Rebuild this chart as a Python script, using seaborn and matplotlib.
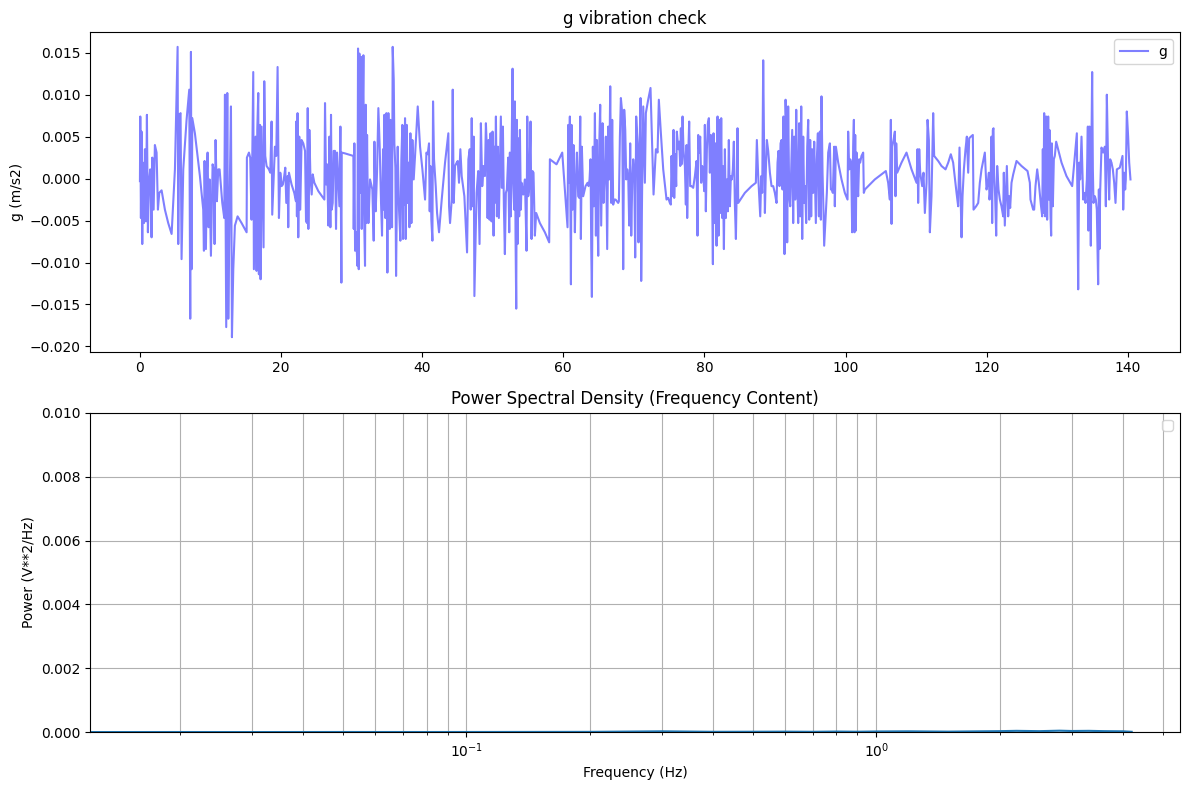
import matplotlib
matplotlib.use("Agg")
import matplotlib.pyplot as plt
import seaborn as sns

# accelerometer trace (time in s, g in m/s2)
time_s = [
    0.00, 0.05, 0.14, 0.23, 0.33, 0.42, 0.57, 0.71, 0.85, 0.99, 1.13, 1.27, 1.46, 1.65, 1.75, 1.94,
    2.12, 2.36, 2.55, 2.74, 3.07, 3.54, 4.01, 4.49, 4.96, 5.34, 5.43, 5.57, 5.76, 5.90, 6.14, 6.61,
    6.99, 7.13, 7.23, 7.32, 7.42, 7.79, 8.50, 8.97, 9.07, 9.16, 9.35, 9.49, 9.59, 9.73, 9.87, 10.06,
    10.30, 10.44, 10.58, 10.72, 10.91, 11.10, 11.29, 11.48, 11.67, 11.95, 12.05, 12.23, 12.38, 12.52,
    12.71, 12.90, 13.04, 13.23, 13.46, 13.84, 14.41, 15.12, 15.16, 15.45, 15.63, 15.82, 16.06, 16.15,
    16.30, 16.39, 16.53, 16.63, 16.77, 16.86, 17.01, 17.10, 17.24, 17.38, 17.52, 17.62, 17.76, 17.95,
    18.28, 18.47, 18.66, 18.75, 18.94, 19.13, 19.32, 19.51, 19.70, 19.89, 20.08, 20.26, 20.45, 20.60,
    20.74, 20.93, 21.02, 21.12, 21.49, 21.87, 22.11, 22.15, 22.25, 22.34, 22.44, 22.58, 22.72, 22.91,
    23.15, 23.40, 23.54, 23.68, 23.78, 23.87, 24.01, 24.16, 24.34, 24.49, 24.72, 25.29, 26.14, 26.23,
    26.38, 26.52, 26.71, 26.85, 26.99, 27.08, 27.18, 27.32, 27.46, 27.65, 27.79, 27.94, 28.12, 28.27,
    28.41, 28.55, 28.60, 29.07, 30.25, 30.30, 30.39, 30.49, 30.63, 30.82, 30.91, 31.01, 31.10, 31.24,
    31.34, 31.43, 31.53, 31.67, 31.76, 31.90, 32.00, 32.09, 32.19, 32.28, 32.38, 32.61, 32.94, 33.13,
    33.23, 33.41, 33.60, 33.79, 33.98, 34.17, 34.31, 34.45, 34.55, 34.64, 34.78, 34.93, 35.07, 35.21,
    35.40, 35.49, 35.59, 35.73, 35.82, 35.97, 36.06, 36.20, 36.30, 36.44, 36.53, 36.72, 36.91, 37.05,
    37.19, 37.29, 37.38, 37.48, 37.57, 37.67, 37.81, 37.95, 38.04, 38.19, 38.33, 38.47, 38.61, 38.80,
    38.99, 39.37, 39.70, 40.03, 40.41, 40.60, 40.78, 40.97, 41.07, 41.16, 41.30, 41.45, 41.54, 41.68,
    41.92, 42.11, 42.39, 42.77, 43.24, 43.71, 43.81, 43.95, 44.09, 44.19, 44.33, 44.47, 44.66, 44.89,
    45.04, 45.22, 45.41, 45.60, 45.98, 46.36, 46.55, 46.74, 46.88, 47.02, 47.16, 47.30, 47.40, 47.71,
    47.94, 48.13, 48.32, 48.51, 48.70, 48.89, 49.03, 49.17, 49.27, 49.41, 49.55, 49.69, 49.83, 49.97,
    50.12, 50.21, 50.30, 50.45, 50.59, 50.73, 50.87, 51.06, 51.15, 51.30, 51.44, 51.58, 51.72, 51.86,
    52.00, 52.19, 52.34, 52.43, 52.57, 52.67, 52.81, 52.90, 53.04, 53.14, 53.23, 53.33, 53.42, 53.52,
    53.61, 53.75, 53.85, 53.99, 54.08, 54.32, 54.56, 54.79, 54.89, 55.03, 55.17, 55.36, 55.50, 55.64,
    55.78, 55.97, 56.16, 56.68, 57.39, 58.00, 58.10, 59.04, 59.85, 60.22, 60.60, 60.70, 60.79, 60.93,
    61.08, 61.17, 61.31, 61.45, 61.64, 61.78, 61.93, 62.11, 62.26, 62.40, 62.49, 62.63, 62.82, 63.15,
    63.44, 63.58, 63.72, 63.86, 63.96, 64.05, 64.19, 64.33, 64.48, 64.62, 64.76, 64.85, 64.95, 65.09,
    65.23, 65.37, 65.56, 65.70, 65.89, 66.03, 66.22, 66.37, 66.51, 66.65, 66.79, 66.93, 67.07, 67.22,
    67.41, 67.78, 67.88, 68.02, 68.16, 68.35, 68.49, 68.63, 68.78, 68.92, 69.06, 69.20, 69.34, 69.48,
    69.63, 69.77, 69.91, 70.05, 70.19, 70.33, 70.52, 70.66, 70.81, 70.95, 71.04, 71.18, 71.33, 71.47,
    71.56, 71.70, 72.03, 72.36, 72.60, 72.79, 73.12, 73.36, 73.54, 73.83, 74.16, 74.39, 74.63, 74.87,
    75.10, 75.24, 75.34, 75.48, 75.62, 75.72, 75.86, 76.00, 76.09, 76.19, 76.33, 76.43, 76.57, 76.66,
    76.76, 76.90, 77.04, 77.23, 77.37, 77.47, 77.56, 77.70, 77.84, 77.98, 78.17, 78.41, 78.65, 78.88,
    79.02, 79.12, 79.26, 79.40, 79.54, 79.69, 79.83, 79.97, 80.06, 80.20, 80.35, 80.49, 80.63, 80.77,
    80.91, 81.06, 81.20, 81.29, 81.43, 81.58, 81.72, 81.86, 82.00, 82.14, 82.24, 82.38, 82.52, 82.61,
    82.76, 82.90, 83.04, 83.18, 83.32, 83.46, 83.61, 83.75, 83.89, 84.03, 84.17, 84.31, 84.46, 84.60,
    84.69, 84.79, 85.73, 86.68, 87.29, 87.43, 87.62, 87.76, 87.91, 88.05, 88.19, 88.33, 88.47, 88.57,
    88.71, 88.85, 89.04, 89.28, 89.51, 89.75, 89.98, 90.22, 90.36, 90.50, 90.64, 90.79, 90.93, 91.07,
    91.21, 91.35, 91.50, 91.64, 91.73, 91.87, 92.02, 92.16, 92.30, 92.44, 92.58, 92.72, 92.87, 93.01,
    93.15, 93.29, 93.43, 93.57, 93.72, 93.86, 94.00, 94.14, 94.28, 94.42, 94.57, 94.71, 94.85, 94.99,
    95.13, 95.27, 95.42, 95.56, 95.79, 95.93, 96.08, 96.22, 96.36, 96.50, 96.59, 96.74, 96.88, 96.97,
    97.16, 97.35, 97.54, 97.78, 97.92, 98.06, 98.20, 98.39, 98.48, 98.63, 98.96, 99.43, 99.90, 100.28,
    100.37, 100.52, 100.66, 100.80, 100.94, 101.08, 101.18, 101.27, 101.37, 101.46, 101.56, 101.65,
    101.79, 101.93, 102.07, 102.26, 102.50, 102.59, 102.74, 104.15, 105.71, 106.04, 106.28, 106.42,
    106.52, 106.61, 106.80, 106.99, 107.08, 107.18, 107.32, 107.93, 108.64, 109.35, 110.06, 110.20,
    110.29, 110.44, 110.58, 110.72, 110.86, 111.05, 111.24, 111.48, 111.62, 111.81, 111.95, 112.18,
    112.42, 112.56, 113.13, 113.60, 114.17, 114.55, 114.92, 115.25, 115.73, 115.96, 116.15, 116.44,
    116.58, 116.77, 117.00, 117.19, 117.38, 117.52, 117.76, 118.04, 118.14, 118.51, 118.80, 119.03,
    119.27, 119.74, 119.98, 120.17, 120.31, 120.40, 120.54, 120.68, 120.78, 120.87, 120.97, 121.06,
    121.20, 121.35, 121.49, 121.68, 121.87, 122.10, 122.34, 122.43, 122.57, 122.72, 122.86, 123.05,
    123.19, 123.33, 123.52, 123.76, 124.23, 124.94, 125.79, 126.12, 126.21, 126.59, 126.73, 126.92,
    127.16, 127.39, 127.68, 127.87, 127.96, 128.05, 128.15, 128.29, 128.43, 128.57, 128.72, 128.81,
    128.90, 129.05, 129.14, 129.24, 129.38, 129.52, 129.66, 129.85, 130.61, 131.31, 132.12, 132.50,
    132.78, 132.87, 132.97, 133.11, 133.25, 133.44, 133.53, 133.68, 133.82, 134.01, 134.20, 134.34,
    134.43, 134.57, 134.67, 134.76, 134.86, 134.95, 135.05, 135.14, 135.33, 135.47, 135.61, 135.80,
    135.90, 135.99, 136.08, 136.27, 136.51, 136.75, 136.89, 137.03, 137.22, 137.36, 137.50, 137.69,
    137.88, 138.07, 138.26, 138.45, 138.87, 139.25, 139.35, 139.49, 139.63, 139.72, 139.86, 140.05,
    140.20, 140.38,
]

g_vals = [
    -0.0003, 0.0074, -0.0047, 0.0056, -0.0078, 0.0019, -0.0053, 0.0035, -0.0051, 0.0076, -0.0064, -0.0005,
    0.0011, -0.0070, 0.0025, -0.0037, 0.0040, 0.0031, -0.0037, -0.0017, -0.0014, -0.0037, -0.0053, -0.0066,
    0.0011, 0.0157, -0.0078, 0.0076, 0.0078, -0.0096, 0.0011, 0.0070, 0.0106, -0.0167, 0.0151, -0.0108,
    0.0072, 0.0054, 0.0003, -0.0037, -0.0086, 0.0021, -0.0084, 0.0007, 0.0031, -0.0058, -0.0001, -0.0092,
    0.0017, 0.0011, -0.0078, 0.0046, -0.0027, 0.0011, 0.0011, -0.0009, -0.0029, -0.0047, 0.0100, -0.0177,
    0.0102, -0.0167, -0.0025, 0.0086, -0.0189, -0.0108, -0.0056, -0.0045, -0.0053, -0.0064, 0.0025, 0.0031,
    0.0025, -0.0049, 0.0127, -0.0108, -0.0005, 0.0050, -0.0110, 0.0058, 0.0102, -0.0114, 0.0064, -0.0120,
    0.0062, -0.0013, -0.0082, 0.0116, 0.0027, 0.0015, 0.0011, 0.0007, 0.0068, -0.0043, -0.0001, 0.0038,
    0.0027, 0.0133, -0.0047, 0.0007, -0.0009, -0.0007, 0.0003, 0.0013, -0.0029, 0.0003, -0.0058, 0.0007,
    -0.0007, -0.0017, -0.0027, 0.0068, -0.0045, 0.0078, -0.0070, 0.0050, -0.0037, 0.0046, 0.0042, 0.0033,
    -0.0051, -0.0053, 0.0084, -0.0060, 0.0058, 0.0003, -0.0019, 0.0005, -0.0005, -0.0015, -0.0025, 0.0090,
    -0.0007, 0.0017, -0.0056, 0.0050, -0.0058, 0.0076, -0.0037, -0.0029, 0.0033, 0.0033, -0.0060, 0.0031,
    -0.0005, -0.0033, 0.0062, -0.0124, 0.0031, 0.0030, 0.0027, -0.0060, 0.0042, -0.0086, -0.0064, -0.0104,
    0.0155, -0.0108, 0.0149, -0.0017, 0.0145, -0.0060, 0.0042, 0.0147, -0.0041, -0.0104, 0.0088, -0.0053,
    0.0052, -0.0017, -0.0053, -0.0001, -0.0013, -0.0074, 0.0044, -0.0039, 0.0007, 0.0084, 0.0038, -0.0029,
    -0.0068, 0.0035, -0.0037, 0.0076, -0.0047, 0.0078, -0.0112, 0.0078, -0.0060, 0.0070, 0.0042, -0.0058,
    0.0157, 0.0118, 0.0042, 0.0013, -0.0116, -0.0005, 0.0038, -0.0037, -0.0074, 0.0023, 0.0064, -0.0072,
    0.0062, -0.0031, 0.0072, -0.0072, 0.0064, -0.0029, 0.0019, -0.0058, 0.0054, -0.0053, 0.0046, -0.0001,
    0.0027, 0.0086, 0.0038, 0.0011, -0.0025, 0.0031, 0.0029, 0.0042, -0.0039, 0.0015, -0.0049, -0.0074,
    0.0092, 0.0023, -0.0009, -0.0041, -0.0064, -0.0025, 0.0019, 0.0054, -0.0033, -0.0053, -0.0037, -0.0025,
    0.0106, -0.0029, 0.0015, 0.0019, 0.0021, -0.0005, 0.0035, 0.0003, -0.0021, -0.0088, 0.0023, 0.0035,
    -0.0037, 0.0072, -0.0033, 0.0050, -0.0140, -0.0017, 0.0009, -0.0078, 0.0066, -0.0009, 0.0015, 0.0003,
    0.0066, 0.0035, -0.0047, 0.0046, -0.0049, 0.0054, -0.0051, 0.0056, -0.0068, 0.0038, -0.0029, 0.0074,
    -0.0045, 0.0038, -0.0047, 0.0037, 0.0074, -0.0011, 0.0062, -0.0033, -0.0090, -0.0017, -0.0013, 0.0025,
    -0.0064, 0.0031, -0.0045, 0.0031, 0.0131, -0.0001, -0.0037, 0.0092, -0.0068, -0.0155, 0.0070, -0.0078,
    0.0048, -0.0045, 0.0058, -0.0037, -0.0005, -0.0019, -0.0001, -0.0086, 0.0074, -0.0021, -0.0011, 0.0068,
    -0.0072, 0.0009, 0.0007, -0.0068, -0.0041, -0.0053, -0.0064, -0.0076, 0.0023, 0.0017, 0.0031, -0.0013,
    -0.0058, 0.0064, -0.0005, 0.0074, -0.0126, 0.0064, -0.0037, 0.0040, -0.0064, -0.0001, 0.0031, -0.0021,
    -0.0023, 0.0074, -0.0072, 0.0038, -0.0021, -0.0009, -0.0005, -0.0009, -0.0001, 0.0023, -0.0084, -0.0141,
    0.0038, -0.0033, 0.0078, -0.0068, 0.0046, -0.0045, -0.0092, 0.0038, 0.0088, -0.0056, 0.0066, -0.0029,
    0.0011, 0.0050, -0.0084, 0.0062, -0.0001, 0.0110, -0.0029, 0.0070, -0.0031, -0.0025, -0.0025, -0.0029,
    -0.0027, 0.0050, 0.0096, 0.0078, -0.0108, 0.0082, 0.0058, -0.0001, 0.0011, 0.0003, -0.0056, 0.0042,
    -0.0068, -0.0005, 0.0023, 0.0011, -0.0094, 0.0074, 0.0042, -0.0076, 0.0038, 0.0096, -0.0122, -0.0005,
    0.0086, 0.0027, -0.0005, 0.0078, 0.0094, 0.0108, 0.0038, -0.0019, 0.0035, 0.0031, 0.0094, 0.0054,
    0.0011, -0.0007, -0.0025, -0.0023, -0.0029, -0.0031, 0.0027, -0.0021, 0.0058, -0.0023, 0.0029, -0.0009,
    0.0056, 0.0046, 0.0035, 0.0044, 0.0015, 0.0060, 0.0017, 0.0074, 0.0033, 0.0015, -0.0031, 0.0040,
    -0.0047, 0.0027, 0.0068, -0.0009, -0.0009, -0.0011, 0.0003, 0.0021, -0.0068, 0.0052, 0.0031, 0.0050,
    -0.0005, 0.0015, 0.0005, -0.0015, 0.0064, -0.0039, 0.0035, 0.0066, 0.0072, 0.0007, 0.0052, 0.0007,
    -0.0102, 0.0054, -0.0053, 0.0042, -0.0080, 0.0074, -0.0068, 0.0070, -0.0041, 0.0072, -0.0047, 0.0015,
    -0.0084, 0.0035, -0.0047, -0.0001, -0.0039, 0.0046, -0.0033, 0.0003, -0.0001, 0.0011, 0.0044, -0.0029,
    -0.0072, -0.0001, 0.0060, -0.0029, -0.0017, -0.0009, -0.0005, 0.0046, 0.0003, -0.0021, -0.0045, 0.0003,
    -0.0017, 0.0141, 0.0027, -0.0041, 0.0011, 0.0046, 0.0033, 0.0007, -0.0009, -0.0009, -0.0017, -0.0029,
    0.0019, 0.0033, -0.0009, 0.0042, 0.0046, -0.0013, 0.0074, -0.0090, 0.0094, 0.0050, -0.0076, 0.0086,
    -0.0021, -0.0033, 0.0015, 0.0058, -0.0053, 0.0050, -0.0025, 0.0082, -0.0001, -0.0053, 0.0066, -0.0045,
    0.0086, -0.0072, 0.0050, -0.0029, -0.0009, -0.0053, 0.0038, 0.0070, -0.0049, 0.0046, -0.0045, 0.0035,
    -0.0017, 0.0044, -0.0053, 0.0023, 0.0054, -0.0045, 0.0056, -0.0049, 0.0098, 0.0007, -0.0041, -0.0080,
    -0.0049, -0.0017, 0.0031, 0.0042, -0.0013, -0.0013, -0.0017, 0.0038, -0.0033, 0.0038, 0.0019, -0.0001,
    -0.0017, -0.0025, 0.0056, 0.0011, 0.0023, 0.0019, -0.0064, 0.0038, 0.0070, -0.0064, 0.0052, -0.0062,
    0.0031, 0.0003, -0.0021, 0.0023, 0.0019, 0.0027, 0.0031, -0.0017, -0.0013, -0.0001, 0.0009, -0.0005,
    -0.0025, 0.0070, -0.0054, 0.0038, 0.0046, 0.0056, -0.0021, 0.0042, 0.0007, 0.0019, 0.0031, 0.0011,
    -0.0005, 0.0035, -0.0029, 0.0035, 0.0007, -0.0001, -0.0009, 0.0007, -0.0041, -0.0005, 0.0070, 0.0046,
    -0.0064, -0.0021, 0.0078, 0.0027, 0.0021, 0.0015, 0.0011, 0.0019, 0.0029, 0.0019, -0.0017, -0.0033,
    0.0037, -0.0070, -0.0021, 0.0011, 0.0035, 0.0050, 0.0007, 0.0048, 0.0050, 0.0052, -0.0037, -0.0033,
    -0.0029, -0.0005, 0.0011, 0.0031, -0.0013, -0.0005, 0.0007, -0.0025, -0.0013, 0.0050, -0.0053, 0.0058,
    0.0060, 0.0007, -0.0021, -0.0068, 0.0015, -0.0013, -0.0025, -0.0033, -0.0045, 0.0007, -0.0056, -0.0021,
    0.0015, -0.0045, -0.0021, -0.0035, -0.0005, 0.0005, 0.0021, 0.0015, 0.0009, -0.0005, -0.0025, -0.0037,
    -0.0037, -0.0009, 0.0011, -0.0005, -0.0031, -0.0045, 0.0035, -0.0041, 0.0078, -0.0045, 0.0074, -0.0049,
    0.0074, -0.0025, 0.0058, -0.0045, -0.0068, 0.0042, -0.0033, 0.0023, 0.0027, 0.0044, 0.0019, 0.0003,
    -0.0009, 0.0027, 0.0054, -0.0029, -0.0132, 0.0019, -0.0001, 0.0050, 0.0023, -0.0025, -0.0017, -0.0029,
    -0.0001, 0.0062, -0.0062, 0.0062, -0.0001, -0.0080, 0.0050, 0.0127, 0.0011, -0.0029, -0.0021, -0.0025,
    -0.0037, -0.0126, -0.0013, -0.0084, -0.0017, 0.0037, 0.0031, 0.0038, -0.0033, 0.0100, 0.0015, -0.0025,
    0.0023, 0.0019, 0.0011, -0.0005, -0.0029, 0.0011, 0.0013, 0.0027, -0.0037, 0.0007, -0.0013, -0.0001,
    0.0080, 0.0050, 0.0019, -0.0001,
]

# power spectral density, tiny compared with the 0.01 axis
psd_freq = [0.012, 0.02, 0.03, 0.05, 0.08, 0.12, 0.2, 0.3, 0.4, 0.5, 0.6, 0.7, 0.8, 0.9,
            1.0, 1.2, 1.5, 1.8, 2.0, 2.2, 2.5, 2.8, 3.0, 3.3, 3.6, 4.0, 4.2]
psd_power = [2e-6, 3e-6, 2e-6, 4e-6, 3e-6, 5e-6, 8e-6, 2.5e-5, 1e-5, 1.2e-5, 1.5e-5, 1e-5, 1.8e-5,
             1.2e-5, 2e-5, 2.5e-5, 1.5e-5, 2.5e-5, 3e-5, 4e-5, 3e-5, 4.5e-5, 3.5e-5, 4e-5, 3e-5,
             2.5e-5, 1e-5]

fig, (ax1, ax2) = plt.subplots(2, 1, figsize=(12, 8), dpi=100)

sns.lineplot(x=time_s, y=g_vals, ax=ax1, color="blue", alpha=0.5, label="g",
             estimator=None, sort=False)
ax1.set_title("g vibration check")
ax1.set_ylabel("g (m/s2)")
ax1.legend(loc="upper right")

sns.lineplot(x=psd_freq, y=psd_power, ax=ax2, estimator=None, sort=False)
ax2.set_xscale("log")
ax2.set_xlim(0.0121, 5.51)
ax2.set_ylim(0, 0.01)
ax2.set_title("Power Spectral Density (Frequency Content)")
ax2.set_xlabel("Frequency (Hz)")
ax2.set_ylabel("Power (V**2/Hz)")
ax2.grid(True, which="both")
ax2.legend()

plt.tight_layout()
plt.savefig("out.png", bbox_inches="tight")
